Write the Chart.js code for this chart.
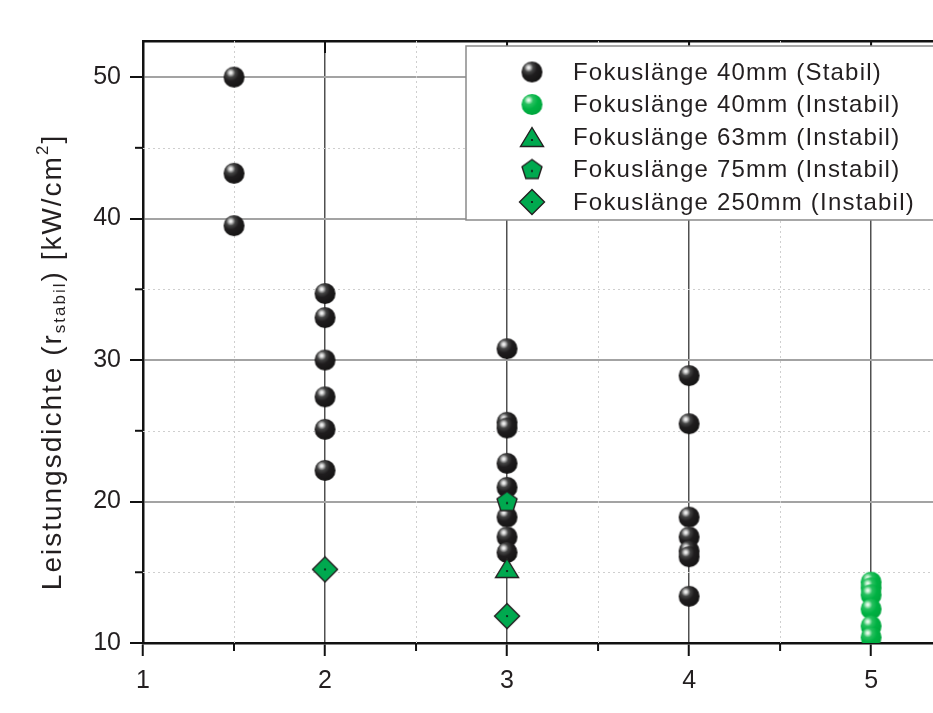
<!DOCTYPE html>
<html>
<head>
<meta charset="utf-8">
<script src="https://cdn.jsdelivr.net/npm/chart.js@4/dist/chart.umd.min.js"></script>
<style>
  html, body { margin: 0; padding: 0; background: #fff; overflow: hidden; }
  canvas { display: block; }
</style>
</head>
<body>
<canvas id="leistungChart" width="933" height="713"></canvas>
<script>
// Werte
const stabil40X = [1.5, 1.5, 1.5, 2, 2, 2, 2, 2, 2, 3, 3, 3, 3, 3, 3, 3, 3, 4, 4, 4, 4, 4, 4, 4];
const stabil40Y = [50.0, 43.2, 39.5, 34.7, 33.0, 30.0, 27.4, 25.1, 22.2, 30.8, 25.6, 25.2, 22.7, 21.0, 18.9, 17.5, 16.4, 28.9, 25.5, 18.9, 17.5, 16.5, 16.1, 13.3];
const instabil40X = [5, 5, 5, 5, 5, 5];
const instabil40Y = [14.3, 13.9, 13.4, 12.4, 11.2, 10.4];
const instabil63X = [3];
const instabil63Y = [15.3];
const instabil75X = [3];
const instabil75Y = [20.0];
const instabil250X = [2, 3];
const instabil250Y = [15.2, 11.9];

const seriesLabels = [
    "Fokuslänge 40mm (Stabil)",
    "Fokuslänge 40mm (Instabil)",
    "Fokuslänge 63mm (Instabil)",
    "Fokuslänge 75mm (Instabil)",
    "Fokuslänge 250mm (Instabil)",
];
const xTicks = [1, 2, 3, 4, 5];
const xMinorTicks = [1.5, 2.5, 3.5, 4.5];
const yTicks = [10, 20, 30, 40, 50];
const yMinorTicks = [15, 25, 35, 45];

const FONT = "'Liberation Sans', Arial, Helvetica, sans-serif";
const TEXT = "#231f20";
const GREEN = "#00a94f";

function toPoints(xs, ys) {
    return xs.map((x, i) => ({ x: x, y: ys[i] }));
}

function newCanvas(w, h) {
    const c = document.createElement("canvas");
    c.width = w;
    c.height = h;
    return c;
}

// Kugel-Marker (schwarz / grün) mit Glanzpunkt
function sphere(r, stops) {
    const size = Math.ceil(2 * r + 2);
    const c = newCanvas(size, size);
    const g = c.getContext("2d");
    const m = size / 2;
    const fx = m - r * 0.32, fy = m - r * 0.42;
    const grad = g.createRadialGradient(fx, fy, 0, fx, fy, r * 1.45);
    stops.forEach(s => grad.addColorStop(s[0], s[1]));
    g.fillStyle = grad;
    g.beginPath();
    g.arc(m, m, r, 0, Math.PI * 2);
    g.fill();
    return c;
}

function polygonMarker(w, h, pts) {
    const c = newCanvas(w, h);
    const g = c.getContext("2d");
    g.beginPath();
    pts.forEach((p, i) => (i ? g.lineTo(p[0], p[1]) : g.moveTo(p[0], p[1])));
    g.closePath();
    g.fillStyle = GREEN;
    g.fill();
    g.lineWidth = 1.4;
    g.strokeStyle = TEXT;
    g.stroke();
    return c;
}

function withDot(c, cx, cy) {
    const g = c.getContext("2d");
    g.fillStyle = "#111";
    g.beginPath();
    g.arc(cx, cy, 1.1, 0, Math.PI * 2);
    g.fill();
    return c;
}

const blackSphere = sphere(10.5, [[0, "#ffffff"], [0.1, "#d8d8d8"], [0.3, "#444444"], [0.55, "#1f1d1e"], [1, "#151414"]]);
const greenSphere = sphere(10.5, [[0, "#ffffff"], [0.1, "#c8f2d4"], [0.3, "#27c05f"], [0.6, "#00b243"], [1, "#00a63d"]]);
const triangle = withDot(polygonMarker(26, 22, [[13, 1.5], [24.5, 20.5], [1.5, 20.5]]), 13, 14);
const pentagon = (function () {
    const pts = [];
    for (let i = 0; i < 5; i++) {
        const a = -Math.PI / 2 + i * 2 * Math.PI / 5;
        pts.push([12 + 10.5 * Math.cos(a), 12.5 + 10.5 * Math.sin(a)]);
    }
    return withDot(polygonMarker(24, 24, pts), 12, 13.5);
})();
const diamond = withDot(polygonMarker(28, 28, [[14, 1.5], [26.5, 14], [14, 26.5], [1.5, 14]]), 14, 14);
const markers = [blackSphere, greenSphere, triangle, pentagon, diamond];

// Nebenteilstriche, gepunktete Hilfslinien, Legende und Achsentitel
const extrasPlugin = {
    id: "extras",
    beforeDatasetsDraw(chart) {
        const { ctx, chartArea: a, scales } = chart;
        const x = scales.x, y = scales.y;
        ctx.save();
        ctx.strokeStyle = "#cfcfcf";
        ctx.lineWidth = 1;
        ctx.setLineDash([2, 3]);
        xMinorTicks.forEach(v => {
            const px = Math.round(x.getPixelForValue(v)) + 0.5;
            ctx.beginPath(); ctx.moveTo(px, a.top); ctx.lineTo(px, a.bottom); ctx.stroke();
        });
        yMinorTicks.forEach(v => {
            const py = Math.round(y.getPixelForValue(v)) + 0.5;
            ctx.beginPath(); ctx.moveTo(a.left, py); ctx.lineTo(a.right, py); ctx.stroke();
        });
        ctx.restore();
    },
    afterDraw(chart) {
        const { ctx, chartArea: a, scales } = chart;
        const x = scales.x, y = scales.y;
        ctx.save();
        // Nebenteilstriche außen, Hauptteilstriche oben innen
        ctx.strokeStyle = "#111";
        ctx.lineWidth = 2;
        xMinorTicks.forEach(v => {
            const px = x.getPixelForValue(v);
            ctx.beginPath(); ctx.moveTo(px, a.bottom); ctx.lineTo(px, a.bottom + 8); ctx.stroke();
        });
        yMinorTicks.forEach(v => {
            const py = y.getPixelForValue(v);
            ctx.beginPath(); ctx.moveTo(a.left, py); ctx.lineTo(a.left - 8, py); ctx.stroke();
        });
        xTicks.slice(1).forEach(v => {
            const px = x.getPixelForValue(v);
            ctx.beginPath(); ctx.moveTo(px, a.top); ctx.lineTo(px, a.top + 12); ctx.stroke();
        });

        // Legende
        const bx = 466, by = 46, bw = 480, bh = 174;
        ctx.fillStyle = "#fff";
        ctx.fillRect(bx, by, bw, bh);
        ctx.strokeStyle = "#8a8a8a";
        ctx.lineWidth = 1.5;
        ctx.strokeRect(bx, by, bw, bh);
        ctx.font = "24px " + FONT;
        ctx.letterSpacing = "1.2px";
        ctx.fillStyle = TEXT;
        ctx.textAlign = "left";
        ctx.textBaseline = "middle";
        seriesLabels.forEach((label, i) => {
            const rowY = 72 + i * 32.5;
            const img = markers[i];
            ctx.drawImage(img, 532 - img.width / 2, rowY - img.height / 2);
            ctx.fillText(label, 573, rowY + 1);
        });

        // Achsentitel mit Index und Hochzahl
        const parts = [
            { t: "Leistungsdichte (r", size: 28, dy: 0 },
            { t: "stabil", size: 17, dy: 7 },
            { t: ") [kW/cm", size: 28, dy: 0 },
            { t: "2", size: 17, dy: -10 },
            { t: "]", size: 28, dy: 0 },
        ];
        ctx.letterSpacing = "2px";
        let total = 0;
        parts.forEach(p => {
            ctx.font = p.size + "px " + FONT;
            p.w = ctx.measureText(p.t).width;
            total += p.w;
        });
        ctx.translate(53, 362);
        ctx.rotate(-Math.PI / 2);
        ctx.textBaseline = "middle";
        let cx = -total / 2;
        parts.forEach(p => {
            ctx.font = p.size + "px " + FONT;
            ctx.fillText(p.t, cx, p.dy);
            cx += p.w;
        });
        ctx.restore();
    },
};

function noPad(scale) {
    scale.paddingLeft = 0;
    scale.paddingRight = 0;
    scale.paddingTop = 0;
    scale.paddingBottom = 0;
}

document.addEventListener("DOMContentLoaded", function () {
    const ctx = document.getElementById("leistungChart").getContext("2d");

    const sets = [
        [stabil40X, stabil40Y],
        [instabil40X, instabil40Y],
        [instabil63X, instabil63Y],
        [instabil75X, instabil75Y],
        [instabil250X, instabil250Y],
    ];

    new Chart(ctx, {
        type: "scatter",
        data: {
            datasets: sets.map((s, i) => ({
                label: seriesLabels[i],
                data: toPoints(s[0], s[1]),
                pointStyle: markers[i],
                pointRadius: 11,
                pointHoverRadius: 11,
                order: i === 0 ? 10 : 4 - i,
            })),
        },
        options: {
            responsive: false,
            animation: false,
            layout: { padding: 0, autoPadding: false },
            plugins: {
                legend: { display: false },
                tooltip: { enabled: false },
            },
            scales: {
                x: {
                    type: "linear",
                    position: "bottom",
                    min: 1,
                    max: 5.34,
                    afterBuildTicks: scale => { scale.ticks = xTicks.map(v => ({ value: v })); },
                    afterFit: scale => { scale.height = 70; noPad(scale); },
                    ticks: {
                        color: TEXT,
                        padding: 10,
                        font: { family: FONT, size: 25 },
                    },
                    grid: {
                        color: c => (c.tick && c.tick.value !== 1 ? "#505050" : "rgba(0,0,0,0)"),
                        lineWidth: 1.5,
                        tickColor: "#111",
                        tickWidth: 2,
                        tickLength: 13,
                    },
                    border: { color: "#111", width: 2.5 },
                },
                xTop: {
                    type: "linear",
                    position: "top",
                    min: 1,
                    max: 5.34,
                    afterFit: scale => { scale.height = 41; noPad(scale); },
                    ticks: { display: false },
                    grid: { drawOnChartArea: false, drawTicks: false },
                    border: { color: "#111", width: 2.5 },
                },
                y: {
                    type: "linear",
                    min: 10,
                    max: 52.55,
                    afterBuildTicks: scale => { scale.ticks = yTicks.map(v => ({ value: v })); },
                    afterFit: scale => { scale.width = 143; noPad(scale); },
                    ticks: {
                        color: TEXT,
                        padding: 9,
                        font: { family: FONT, size: 25 },
                    },
                    grid: {
                        color: c => (c.tick && c.tick.value !== 10 ? "#a3a3a3" : "rgba(0,0,0,0)"),
                        lineWidth: 2,
                        tickColor: "#111",
                        tickWidth: 2,
                        tickLength: 13,
                    },
                    border: { color: "#111", width: 2.5 },
                },
            },
        },
        plugins: [extrasPlugin],
    });
});
</script>
</body>
</html>
